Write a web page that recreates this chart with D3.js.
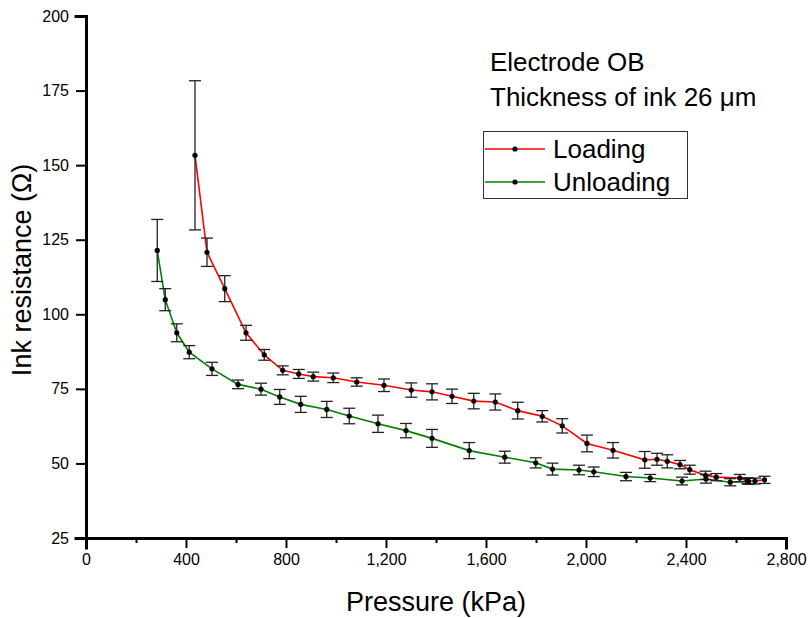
<!DOCTYPE html>
<html><head><meta charset="utf-8">
<script src="https://cdn.jsdelivr.net/npm/d3@7/dist/d3.min.js"></script>
<style>body{margin:0;background:#fff}text{font-family:"Liberation Sans",Arial,sans-serif;fill:#000}</style>
</head><body>
<svg id="c" width="810" height="618"></svg>
<script>
const loadP = [436, 484, 555, 640, 713, 787, 851, 909, 989, 1083, 1192, 1301, 1384, 1464, 1551, 1637, 1727, 1825, 1905, 2004, 2108, 2235, 2284, 2325, 2376, 2415, 2478, 2521, 2615, 2645, 2676, 2714];
const loadR = [153.3, 120.8, 108.6, 93.8, 86.4, 81.2, 80.0, 79.1, 78.7, 77.3, 76.2, 74.6, 74.0, 72.5, 70.9, 70.6, 67.7, 65.8, 62.6, 56.7, 54.4, 51.2, 51.4, 50.7, 49.6, 47.9, 46.0, 45.4, 45.1, 44.2, 44.1, 44.5];
const loadE = [25, 4.75, 4.35, 2.5, 1.8, 1.5, 1.5, 1.5, 1.6, 1.4, 2.1, 2.4, 2.7, 2.4, 2.6, 2.7, 2.8, 1.9, 2.4, 2.8, 2.6, 2.8, 2.0, 2.2, 1.4, 1.5, 1.4, 1.2, 1.2, 1.0, 1.0, 1.2];
const unloadP = [285, 317, 363, 413, 504, 608, 700, 775, 859, 963, 1053, 1168, 1280, 1384, 1533, 1675, 1799, 1866, 1972, 2031, 2160, 2257, 2384, 2480, 2577, 2650];
const unloadR = [121.4, 104.9, 93.8, 87.3, 81.7, 76.5, 74.9, 72.3, 69.8, 68.1, 65.9, 63.3, 61.0, 58.4, 54.3, 52.1, 50.2, 48.1, 47.8, 47.2, 45.6, 45.1, 44.1, 44.8, 43.7, 44.0];
const unloadE = [10.4, 3.7, 3.0, 2.2, 2.2, 1.45, 2.0, 2.5, 2.7, 2.7, 2.6, 2.9, 2.4, 3.0, 2.7, 2.0, 1.7, 2.0, 1.6, 1.6, 1.4, 1.2, 1.3, 1.4, 1.2, 1.0];
const xTicks = [0, 400, 800, 1200, 1600, 2000, 2400, 2800];
const yTicks = [25, 50, 75, 100, 125, 150, 175, 200];
const seriesNames = ["Loading", "Unloading"];
const seriesColors = ["#ff0000", "#008000"];
const notes = ["Electrode OB", "Thickness of ink 26 \u03bcm"];

const svg = d3.select("#c");
const x = d3.scaleLinear().domain([0, 2800]).range([86, 786]);
const y = d3.scaleLinear().domain([25, 200]).range([538, 16]);

const series = [
  {name: seriesNames[0], color: seriesColors[0], d: loadP.map((p,i)=>({p, r: loadR[i], e: loadE[i]}))},
  {name: seriesNames[1], color: seriesColors[1], d: unloadP.map((p,i)=>({p, r: unloadR[i], e: unloadE[i]}))}
];

const xAxis = d3.axisBottom(x).tickValues(xTicks).tickFormat(d3.format(",")).tickSizeOuter(0).tickSize(10).tickPadding(6);
const xMinor = d3.axisBottom(x).tickValues(d3.range(200, 2800, 400)).tickFormat("").tickSizeOuter(0).tickSize(5);
const yAxis = d3.axisLeft(y).tickValues(yTicks).tickSizeOuter(0).tickSize(10).tickPadding(7);

const gx = svg.append("g").attr("transform", "translate(0,538)").call(xAxis);
const gxm = svg.append("g").attr("transform", "translate(0,538)").call(xMinor);
const gy = svg.append("g").attr("transform", "translate(86,0)").call(yAxis);
[gx, gxm, gy].forEach(g => {
  g.select(".domain").attr("stroke", "#000").attr("stroke-width", 3).attr("stroke-linecap", "square");
  g.selectAll(".tick line").attr("stroke", "#000").attr("stroke-width", 2);
  g.selectAll(".tick text").style("font-size", "16px").style("font-family", "'Liberation Sans', Arial, sans-serif").attr("fill", "#000");
});
gxm.select(".domain").remove();

const line = d3.line().x(d => x(d.p)).y(d => y(d.r));
series.forEach(s => {
  svg.append("path").datum(s.d).attr("d", line).attr("fill", "none").attr("stroke", s.color).attr("stroke-width", 1.6);
});
series.forEach(s => {
  const g = svg.append("g").attr("stroke", "#222").attr("stroke-width", 1.3);
  s.d.forEach(d => {
    const cx = x(d.p), y1 = y(d.r + d.e), y2 = y(d.r - d.e);
    g.append("line").attr("x1", cx).attr("x2", cx).attr("y1", y1).attr("y2", y2);
    g.append("line").attr("x1", cx - 6).attr("x2", cx + 6).attr("y1", y1).attr("y2", y1);
    g.append("line").attr("x1", cx - 6).attr("x2", cx + 6).attr("y1", y2).attr("y2", y2);
  });
});
series.forEach(s => {
  svg.append("g").selectAll("circle").data(s.d).join("circle")
    .attr("cx", d => x(d.p)).attr("cy", d => y(d.r)).attr("r", 2.6).attr("fill", "#000");
});

svg.append("text").attr("x", 436).attr("y", 611).attr("text-anchor", "middle").style("font-size", "27px").text("Pressure (kPa)");
svg.append("text").attr("transform", "translate(31,270) rotate(-90)").attr("text-anchor", "middle").style("font-size", "27px").text("Ink resistance (\u03a9)");

svg.append("text").attr("x", 490).attr("y", 71).style("font-size", "26px").text(notes[0]);
svg.append("text").attr("x", 490).attr("y", 106).style("font-size", "26px").text(notes[1]);

svg.append("rect").attr("x", 483.5).attr("y", 131.5).attr("width", 204).attr("height", 67).attr("fill", "none").attr("stroke", "#333").attr("stroke-width", 1);
series.forEach((s, i) => {
  const ly = 149 + i * 33;
  svg.append("line").attr("x1", 485).attr("x2", 545).attr("y1", ly).attr("y2", ly).attr("stroke", s.color).attr("stroke-width", 1.6);
  svg.append("circle").attr("cx", 515).attr("cy", ly).attr("r", 2.6).attr("fill", "#000");
  svg.append("text").attr("x", 553).attr("y", ly + 9).style("font-size", "26px").text(s.name);
});
</script>
</body></html>
